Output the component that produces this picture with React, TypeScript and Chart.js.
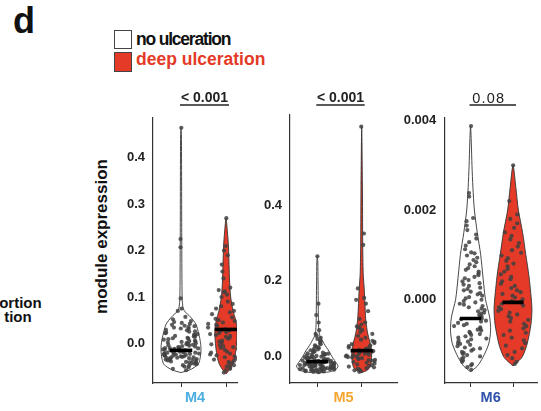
import React, { useEffect, useRef } from 'react';
import { Chart, registerables } from 'chart.js';
Chart.register(...registerables);

const FONT = '"Liberation Sans", Arial, Helvetica, sans-serif';

// ---------- data ----------
const MODULES = ['M4', 'M5', 'M6'];
const MODULE_COLORS = ['#4BAEE1', '#F6A531', '#2F51A9'];
const P_VALUES = ['< 0.001', '< 0.001', '0.08'];
const P_BOLD = [true, true, false];
const LEGEND_LABELS = ['no ulceration', 'deep ulceration'];
const GROUP_FILLS = ['#FFFFFF', '#E43A27'];

const Y_TICKS_M4 = [0, 0.1, 0.2, 0.3, 0.4];
const Y_TICKS_M5 = [0, 0.2, 0.4];
const Y_TICKS_M6 = [0, 0.002, 0.004];

// violin density profiles (levels / relative width)
const M4_NO_LEVELS = [-0.063, -0.058, -0.052, -0.045, -0.035, -0.02, -0.005, 0.01, 0.025, 0.04, 0.05, 0.06, 0.068, 0.075, 0.085, 0.1, 0.15, 0.25, 0.35, 0.45, 0.465];
const M4_NO_DENS = [0, 0.4, 0.65, 0.85, 0.93, 0.98, 0.98, 0.93, 0.85, 0.75, 0.6, 0.4, 0.2, 0.11, 0.075, 0.055, 0.045, 0.035, 0.03, 0.02, 0];
const M4_DEEP_LEVELS = [-0.066, -0.058, -0.045, -0.03, -0.01, 0.01, 0.03, 0.05, 0.07, 0.1, 0.13, 0.17, 0.21, 0.24, 0.27];
const M4_DEEP_DENS = [0, 0.15, 0.33, 0.43, 0.5, 0.54, 0.55, 0.48, 0.35, 0.23, 0.18, 0.15, 0.12, 0.07, 0];
const M5_NO_LEVELS = [-0.043, -0.04, -0.035, -0.025, -0.015, -0.005, 0.005, 0.015, 0.025, 0.035, 0.045, 0.055, 0.07, 0.1, 0.15, 0.2, 0.25, 0.265];
const M5_NO_DENS = [0, 0.6, 0.9, 1.04, 0.93, 0.8, 0.68, 0.58, 0.45, 0.33, 0.23, 0.13, 0.075, 0.055, 0.045, 0.035, 0.025, 0];
const M5_DEEP_LEVELS = [-0.042, -0.035, -0.025, -0.01, 0.005, 0.02, 0.035, 0.05, 0.07, 0.1, 0.14, 0.18, 0.22, 0.3, 0.45, 0.607];
const M5_DEEP_DENS = [0, 0.3, 0.43, 0.48, 0.5, 0.48, 0.43, 0.35, 0.27, 0.2, 0.16, 0.125, 0.075, 0.05, 0.035, 0];
const M6_NO_LEVELS = [-0.00162, -0.0015, -0.0013, -0.001, -0.0007, -0.0004, 0, 0.0005, 0.001, 0.0015, 0.002, 0.0025, 0.003, 0.0035, 0.00388];
const M6_NO_DENS = [0, 0.35, 0.65, 0.95, 1.05, 1.0, 0.78, 0.65, 0.53, 0.35, 0.2, 0.125, 0.075, 0.04, 0];
const M6_DEEP_LEVELS = [-0.00149, -0.0014, -0.00128, -0.001, -0.00056, -0.0002, 0.0005, 0.001, 0.0015, 0.002, 0.0025, 0.003];
const M6_DEEP_DENS = [0, 0.25, 0.5, 0.74, 0.94, 0.99, 0.84, 0.67, 0.5, 0.28, 0.15, 0];

// medians
const MEDIANS_NO = [-0.015, -0.013, -0.00043];
const MEDIANS_DEEP = [0.03, 0.016, -0.00007];

// observations
const M4_NO = [-0.058, -0.055, -0.052, -0.05, -0.048, -0.047, -0.045, -0.044, -0.043, -0.042, -0.041, -0.04, -0.039, -0.038, -0.037, -0.036, -0.035, -0.035, -0.034, -0.033, -0.032, -0.032, -0.031, -0.03, -0.03, -0.029, -0.028, -0.028, -0.027, -0.026, -0.026, -0.025, -0.025, -0.024, -0.023, -0.023, -0.022, -0.022, -0.021, -0.02, -0.02, -0.019, -0.019, -0.018, -0.018, -0.017, -0.016, -0.016, -0.015, -0.015, -0.014, -0.013, -0.013, -0.012, -0.011, -0.01, -0.01, -0.009, -0.008, -0.007, -0.006, -0.005, -0.004, -0.003, -0.002, -0.001, 0.0, 0.001, 0.002, 0.003, 0.004, 0.005, 0.006, 0.008, 0.009, 0.01, 0.011, 0.012, 0.014, 0.015, 0.016, 0.018, 0.019, 0.02, 0.022, 0.023, 0.025, 0.026, 0.028, 0.029, 0.031, 0.032, 0.034, 0.035, 0.037, 0.038, 0.04, 0.042, 0.044, 0.046, 0.048, 0.052, 0.057, 0.07, 0.075, 0.097, 0.207, 0.225, 0.465];
const M4_DEEP = [-0.063, -0.058, -0.055, -0.052, -0.05, -0.047, -0.045, -0.042, -0.04, -0.038, -0.035, -0.033, -0.03, -0.028, -0.026, -0.024, -0.022, -0.02, -0.018, -0.016, -0.014, -0.012, -0.01, -0.008, -0.006, -0.004, -0.002, 0.0, 0.002, 0.004, 0.006, 0.008, 0.01, 0.012, 0.014, 0.016, 0.018, 0.02, 0.022, 0.024, 0.026, 0.028, 0.03, 0.032, 0.034, 0.036, 0.038, 0.04, 0.042, 0.045, 0.048, 0.05, 0.053, 0.056, 0.06, 0.063, 0.067, 0.07, 0.075, 0.08, 0.085, 0.09, 0.1, 0.105, 0.11, 0.112, 0.115, 0.12, 0.14, 0.155, 0.17, 0.19, 0.2, 0.21, 0.27];
const M5_NO = [-0.041, -0.04, -0.039, -0.039, -0.038, -0.037, -0.037, -0.036, -0.036, -0.035, -0.035, -0.034, -0.034, -0.033, -0.033, -0.032, -0.032, -0.031, -0.031, -0.03, -0.03, -0.03, -0.029, -0.029, -0.028, -0.028, -0.027, -0.027, -0.026, -0.026, -0.025, -0.025, -0.024, -0.024, -0.023, -0.023, -0.022, -0.022, -0.021, -0.021, -0.02, -0.02, -0.019, -0.019, -0.018, -0.018, -0.017, -0.017, -0.016, -0.016, -0.015, -0.015, -0.014, -0.014, -0.013, -0.012, -0.012, -0.011, -0.011, -0.01, -0.009, -0.009, -0.008, -0.007, -0.006, -0.006, -0.005, -0.004, -0.003, -0.002, -0.001, 0.0, 0.001, 0.002, 0.003, 0.004, 0.005, 0.006, 0.007, 0.008, 0.009, 0.011, 0.012, 0.014, 0.015, 0.017, 0.019, 0.021, 0.023, 0.025, 0.027, 0.03, 0.033, 0.036, 0.04, 0.043, 0.047, 0.05, 0.055, 0.06, 0.07, 0.09, 0.11, 0.14, 0.265];
const M5_DEEP = [-0.04, -0.038, -0.036, -0.034, -0.032, -0.03, -0.028, -0.026, -0.024, -0.022, -0.02, -0.018, -0.016, -0.014, -0.012, -0.01, -0.009, -0.008, -0.006, -0.005, -0.004, -0.002, -0.001, 0.0, 0.001, 0.003, 0.004, 0.005, 0.007, 0.008, 0.01, 0.012, 0.013, 0.015, 0.016, 0.018, 0.02, 0.022, 0.024, 0.026, 0.028, 0.03, 0.033, 0.036, 0.039, 0.042, 0.045, 0.05, 0.055, 0.06, 0.065, 0.07, 0.075, 0.078, 0.08, 0.085, 0.09, 0.1, 0.12, 0.14, 0.15, 0.155, 0.18, 0.295, 0.325, 0.607];
const M6_NO = [-0.00158, -0.00152, -0.00148, -0.00145, -0.0014, -0.00137, -0.00134, -0.0013, -0.00128, -0.00125, -0.00122, -0.0012, -0.00118, -0.00115, -0.00112, -0.0011, -0.00108, -0.00105, -0.00102, -0.001, -0.00098, -0.00095, -0.00093, -0.0009, -0.00088, -0.00086, -0.00083, -0.0008, -0.00078, -0.00076, -0.00073, -0.0007, -0.00068, -0.00066, -0.00063, -0.0006, -0.00058, -0.00055, -0.00053, -0.0005, -0.00048, -0.00045, -0.00043, -0.0004, -0.00038, -0.00035, -0.00032, -0.0003, -0.00027, -0.00024, -0.00021, -0.00018, -0.00015, -0.00012, -0.0001, -0.00007, -0.00004, -0.00001, 0.00002, 0.00005, 0.00008, 0.00011, 0.00014, 0.00017, 0.0002, 0.00023, 0.00026, 0.0003, 0.00033, 0.00036, 0.0004, 0.00043, 0.00047, 0.0005, 0.00054, 0.00058, 0.00062, 0.00066, 0.0007, 0.00074, 0.00078, 0.00083, 0.00088, 0.00093, 0.00098, 0.00103, 0.00105, 0.00112, 0.0012, 0.00128, 0.00136, 0.00145, 0.00155, 0.00165, 0.00175, 0.00182, 0.0023, 0.00238, 0.00388];
const M6_DEEP = [-0.00145, -0.0014, -0.00132, -0.00125, -0.00118, -0.0011, -0.00104, -0.00098, -0.00092, -0.00086, -0.0008, -0.00075, -0.0007, -0.00065, -0.0006, -0.00055, -0.0005, -0.00046, -0.00042, -0.00038, -0.00034, -0.0003, -0.00026, -0.00022, -0.00018, -0.00014, -0.0001, -0.00007, -0.00004, 0.0, 0.00004, 0.00008, 0.00012, 0.00016, 0.0002, 0.00025, 0.0003, 0.00035, 0.0004, 0.00045, 0.0005, 0.00056, 0.00062, 0.00068, 0.00074, 0.0008, 0.00086, 0.00092, 0.00098, 0.00104, 0.0011, 0.00118, 0.00126, 0.00134, 0.00142, 0.0015, 0.0016, 0.0017, 0.0018, 0.0019, 0.0022, 0.003];

// ---------- layout ----------
const PANELS = [
  { left: 100, width: 145, padTop: 38, padRight: 8, yWidth: 53, xMin: -0.622, xMax: 1.244, yMin: -0.0855, yMax: 0.486, ticks: Y_TICKS_M4, dec: 1,
    groups: [{ values: M4_NO, levels: M4_NO_LEVELS, dens: M4_NO_DENS, spread: 0.9 }, { values: M4_DEEP, levels: M4_DEEP_LEVELS, dens: M4_DEEP_DENS, spread: 1.7 }] },
  { left: 245, width: 160, padTop: 35, padRight: 8, yWidth: 45, xMin: -0.615, xMax: 1.795, yMin: -0.0694, yMax: 0.6377, ticks: Y_TICKS_M5, dec: 1,
    groups: [{ values: M5_NO, levels: M5_NO_LEVELS, dens: M5_NO_DENS, spread: 0.9 }, { values: M5_DEEP, levels: M5_DEEP_LEVELS, dens: M5_DEEP_DENS, spread: 1.7 }] },
  { left: 395, width: 146, padTop: 38, padRight: 0, yWidth: 49.3, xMin: -0.618, xMax: 1.565, yMin: -0.001875, yMax: 0.00406, ticks: Y_TICKS_M6, dec: 3,
    groups: [{ values: M6_NO, levels: M6_NO_LEVELS, dens: M6_NO_DENS, spread: 0.85 }, { values: M6_DEEP, levels: M6_DEEP_LEVELS, dens: M6_DEEP_DENS, spread: 0.85 }] },
];
const CANVAS_TOP = 80;
const CANVAS_H = 331;
const X_AXIS_H = 28;
const VIOLIN_SCALE = 0.45;
const MEDIAN_HALF = 0.25;

function densAt(levels: number[], dens: number[], y: number) {
  if (y <= levels[0]) return dens[0];
  for (let i = 1; i < levels.length; i++) {
    if (y <= levels[i]) {
      const t = (y - levels[i - 1]) / (levels[i] - levels[i - 1]);
      return dens[i - 1] + t * (dens[i] - dens[i - 1]);
    }
  }
  return dens[dens.length - 1];
}
function jitter(i: number, s: number) {
  const v = Math.sin(i * 127.1 + s * 311.7) * 43758.5453;
  return (v - Math.floor(v)) * 2 - 1;
}

const pvalPlugin = {
  id: 'pval',
  afterDraw(chart: any, _args: any, opts: any) {
    const { ctx } = chart;
    const xs = chart.scales.x;
    const x0 = xs.getPixelForValue(0);
    const x1 = xs.getPixelForValue(1);
    ctx.save();
    ctx.font = `${opts.bold ? 'bold ' : ''}${opts.size}px ${FONT}`;
    if ('letterSpacing' in ctx) ctx.letterSpacing = opts.spacing + 'px';
    ctx.fillStyle = '#222';
    ctx.textAlign = 'center';
    ctx.textBaseline = 'alphabetic';
    ctx.fillText(opts.text, (x0 + x1) / 2 + opts.dx, opts.baseline);
    ctx.strokeStyle = '#222';
    ctx.lineWidth = 1.4;
    ctx.beginPath();
    ctx.moveTo(x0 - 1, opts.lineY);
    ctx.lineTo(x1 + 3, opts.lineY);
    ctx.stroke();
    ctx.restore();
  },
};

function makeChart(canvas: HTMLCanvasElement, pi: number) {
  const p = PANELS[pi];
  const medians = [MEDIANS_NO[pi], MEDIANS_DEEP[pi]];
  const datasets: any[] = [];
  p.groups.forEach((g, gi) => {
    datasets.push({
      data: [{ x: gi - MEDIAN_HALF, y: medians[gi] }, { x: gi + MEDIAN_HALF, y: medians[gi] }],
      showLine: true, borderColor: '#000', borderWidth: 3.6, pointRadius: 0, fill: false, order: 0,
    });
  });
  p.groups.forEach((g, gi) => {
    const pts = g.values.map((v, i) => {
      const amp = g.spread * densAt(g.levels, g.dens, v) * VIOLIN_SCALE + 0.015;
      return { x: gi + jitter(i, gi + pi * 2 + 1) * amp, y: v };
    });
    datasets.push({
      data: pts, showLine: false, pointRadius: 2.1, pointBackgroundColor: 'rgba(65,65,65,0.85)',
      pointBorderWidth: 0, order: 1,
    });
  });
  p.groups.forEach((g, gi) => {
    const right = g.levels.map((y, i) => ({ x: gi + g.dens[i] * VIOLIN_SCALE, y }));
    const left = g.levels.slice(0, -1).map((y, i) => ({ x: gi - g.dens[i] * VIOLIN_SCALE, y })).reverse();
    datasets.push({
      data: [...right, ...left], showLine: true, fill: 'shape', backgroundColor: GROUP_FILLS[gi],
      borderColor: '#333', borderWidth: 0.9, pointRadius: 0, tension: 0.25, order: 2,
    });
  });

  return new Chart(canvas, {
    type: 'scatter',
    data: { datasets },
    plugins: [pvalPlugin],
    options: {
      animation: false,
      responsive: false,
      events: [],
      layout: { padding: { top: p.padTop, right: p.padRight, left: 0, bottom: 0 } },
      plugins: {
        legend: { display: false },
        tooltip: { enabled: false },
        pval: {
          text: P_VALUES[pi], bold: P_BOLD[pi], size: P_BOLD[pi] ? 14 : 14.5,
          spacing: P_BOLD[pi] ? 0 : 1.2, dx: P_BOLD[pi] ? 1 : -3, baseline: P_BOLD[pi] ? 21.6 : 22.6, lineY: 25,
        },
      } as any,
      scales: {
        x: {
          type: 'linear', min: p.xMin, max: p.xMax,
          afterBuildTicks: (s: any) => { s.ticks = [{ value: 0 }, { value: 1 }]; },
          afterFit: (s: any) => { s.height = X_AXIS_H; },
          ticks: { callback: () => '', padding: 0 },
          grid: { display: true, drawOnChartArea: false, drawTicks: true, tickLength: 4, color: '#333', lineWidth: 1 },
          border: { display: true, color: '#333', width: 1.2 },
          title: { display: true, text: MODULES[pi], color: MODULE_COLORS[pi], font: { family: FONT, size: 14.5, weight: 'bold' }, padding: { top: 0, bottom: 4 } },
        },
        y: {
          type: 'linear', min: p.yMin, max: p.yMax,
          afterBuildTicks: (s: any) => { s.ticks = p.ticks.map((v) => ({ value: v })); },
          afterFit: (s: any) => { s.width = p.yWidth; },
          ticks: { callback: (v: any) => Number(v).toFixed(p.dec), color: '#222', padding: 8, font: { family: FONT, size: 13, weight: 'bold' } },
          grid: { display: false, drawTicks: false, tickLength: 0 },
          border: { display: true, color: '#333', width: 1.2 },
        },
      },
    } as any,
  });
}

function Panel({ index }: { index: number }) {
  const ref = useRef<HTMLCanvasElement>(null);
  const p = PANELS[index];
  useEffect(() => {
    const chart = makeChart(ref.current as HTMLCanvasElement, index);
    return () => chart.destroy();
  }, [index]);
  return (
    <canvas
      ref={ref}
      width={p.width}
      height={CANVAS_H}
      style={{ position: 'absolute', left: p.left, top: CANVAS_TOP, width: p.width, height: CANVAS_H }}
    />
  );
}

export default function App() {
  const txt: React.CSSProperties = { position: 'absolute', fontFamily: FONT, fontWeight: 'bold', whiteSpace: 'nowrap' };
  return (
    <div style={{ position: 'absolute', left: 0, top: 0, width: 541, height: 411, background: '#fff', overflow: 'hidden' }}>
      <div style={{ ...txt, left: 13, top: 2.8, fontSize: 36, lineHeight: '36px', color: '#111' }}>d</div>
      <div style={{ position: 'absolute', left: 114, top: 30, width: 18, height: 19, boxSizing: 'border-box', border: '1.5px solid #444', background: GROUP_FILLS[0] }} />
      <div style={{ position: 'absolute', left: 114, top: 52, width: 18, height: 20, boxSizing: 'border-box', border: '1.5px solid #444', background: GROUP_FILLS[1] }} />
      <div style={{ ...txt, left: 136, top: 31, fontSize: 17.5, lineHeight: '17.5px', letterSpacing: '-1.2px', color: '#111' }}>{LEGEND_LABELS[0]}</div>
      <div style={{ ...txt, left: 136, top: 51.2, fontSize: 17.5, lineHeight: '17.5px', color: GROUP_FILLS[1] }}>{LEGEND_LABELS[1]}</div>
      <div style={{ ...txt, left: -0.8, top: 294.8, fontSize: 15, lineHeight: '15px', color: '#111' }}>ortion</div>
      <div style={{ ...txt, left: 4.2, top: 309, fontSize: 15, lineHeight: '15px', color: '#111' }}>tion</div>
      <div style={{ ...txt, left: 0.6, top: 228, width: 200, height: 17, fontSize: 17, lineHeight: '17px', textAlign: 'center', transform: 'rotate(-90deg)', color: '#111' }}>module expression</div>
      <Panel index={0} />
      <Panel index={1} />
      <Panel index={2} />
    </div>
  );
}
